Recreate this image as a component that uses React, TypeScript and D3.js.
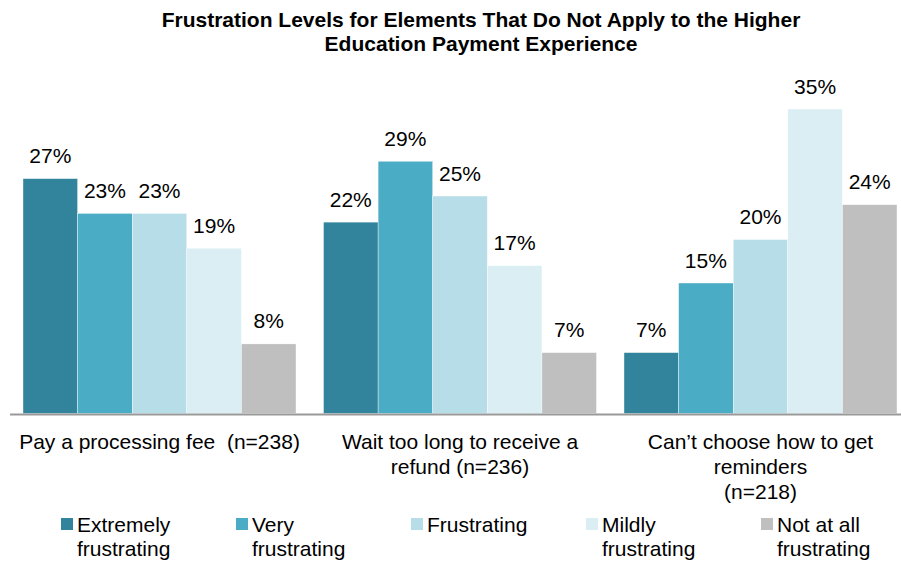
import React from "react";
import * as d3 from "d3";

const categories = [
  ["Pay a processing fee  (n=238)"],
  ["Wait too long to receive a", "refund (n=236)"],
  ["Can\u2019t choose how to get", "reminders", "(n=218)"],
];
const categoryKeys = ["fee", "refund", "reminders"];
const seriesNames = [
  ["Extremely", "frustrating"],
  ["Very", "frustrating"],
  ["Frustrating"],
  ["Mildly", "frustrating"],
  ["Not at all", "frustrating"],
];
const seriesKeys = ["extremely", "very", "frustrating", "mildly", "notatall"];
const colors = ["#31849B", "#4BACC6", "#B7DEE8", "#DAEEF3", "#BFBFBF"];
const feeValues = [27, 23, 23, 19, 8];
const refundValues = [22, 29, 25, 17, 7];
const reminderValues = [7, 15, 20, 35, 24];
const values = [feeValues, refundValues, reminderValues];
const titleLines = [
  "Frustration Levels for Elements That Do Not Apply to the Higher",
  "Education Payment Experience",
];

const W = 901;
const H = 563;
const FONT = "'Liberation Sans', Arial, sans-serif";

export default function App() {
  const x0 = d3.scaleBand().domain(categoryKeys).range([23, 897]).paddingInner(0.0915).paddingOuter(0);
  const x1 = d3.scaleBand().domain(seriesKeys).range([0, x0.bandwidth()]).padding(0);
  const y = d3.scaleLinear().domain([0, 40]).range([413.5, 65.5]);

  return (
    <svg width={W} height={H} style={{ position: "absolute", left: 0, top: 0, background: "#fff" }} fontFamily={FONT}>
      <rect width={W} height={H} fill="#fff" />
      {titleLines.map((t, i) => (
        <text key={i} x={481} y={27 + i * 24} textAnchor="middle" fontSize={21} fontWeight="bold" fill="#000">
          {t}
        </text>
      ))}
      {categoryKeys.map((ck, gi) => (
        <g key={ck} transform={`translate(${x0(ck)},0)`}>
          {values[gi].map((v, si) => (
            <g key={si}>
              <rect
                x={x1(seriesKeys[si])}
                y={y(v)}
                width={x1.bandwidth()}
                height={y(0) - y(v)}
                fill={colors[si]}
                stroke="#ffffff"
                strokeWidth={0.4}
              />
              <text
                x={(x1(seriesKeys[si]) as number) + x1.bandwidth() / 2}
                y={y(v) - 15.5}
                textAnchor="middle"
                fontSize={21}
                fill="#000"
              >
                {v}%
              </text>
            </g>
          ))}
          {categories[gi].map((line, li) => (
            <text
              key={li}
              x={x0.bandwidth() / 2}
              y={449 + li * 25}
              textAnchor="middle"
              fontSize={21}
              fill="#000"
              style={{ whiteSpace: "pre" }}
            >
              {line}
            </text>
          ))}
        </g>
      ))}
      <line x1={10} x2={901} y1={y(0) + 1} y2={y(0) + 1} stroke="#999" strokeWidth={2} />
      {seriesKeys.map((sk, i) => {
        const lx = 61 + i * 175;
        return (
          <g key={sk} transform={`translate(${lx},518)`}>
            <rect x={0} y={0} width={12} height={12} fill={colors[i]} />
            {seriesNames[i].map((line, li) => (
              <text key={li} x={16} y={14 + li * 24} fontSize={21} fill="#000">
                {line}
              </text>
            ))}
          </g>
        );
      })}
    </svg>
  );
}
